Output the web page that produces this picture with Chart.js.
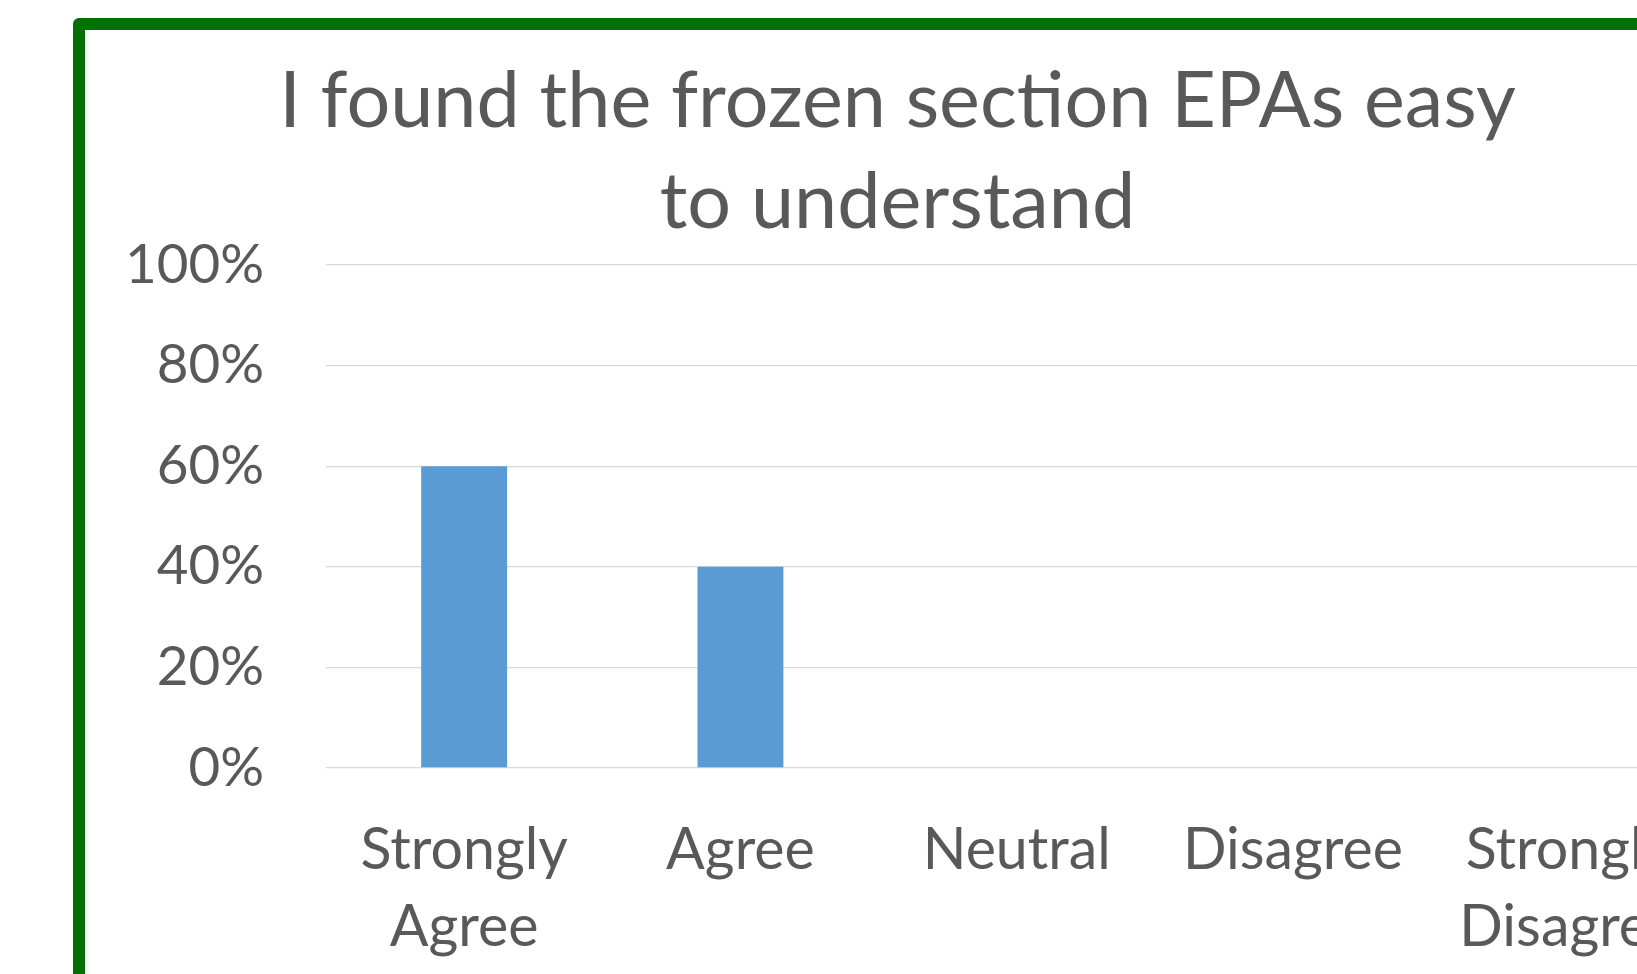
<!DOCTYPE html>
<html>
<head>
<meta charset="utf-8">
<script src="https://cdn.jsdelivr.net/npm/chart.js@4.4.1/dist/chart.umd.min.js"></script>
<style>
  html, body { margin: 0; padding: 0; background: #ffffff; overflow: hidden; width: 1637px; height: 974px; }
  #frame { position: absolute; left: 73px; top: 18px; border: 12px solid #047004; border-radius: 6px; background: #fff; width: 1640px; height: 1000px; }
  #c { display: block; }
</style>
</head>
<body>
<div id="frame"><canvas id="c" width="1640" height="1000"></canvas></div>
<script>
const titleLines = ["I found the frozen section EPAs easy", "to understand"];
const categories = [["Strongly", "Agree"], "Agree", "Neutral", "Disagree", ["Strongly", "Disagree"]];
const percentValues = [60, 40, 0, 0, 0];
const yTickValues = [0, 20, 40, 60, 80, 100];

const FAMILY = "Lato, 'Open Sans', sans-serif";
const TEXT = "#595959";

function fitSize(text, target) {
  const m = document.createElement("canvas").getContext("2d");
  m.font = "400 100px " + FAMILY;
  return 100 * target / m.measureText(text).width;
}
const titleSize = fitSize(titleLines[0], 1237);
const yTickSize = fitSize("100%", 139);
const xTickSize = fitSize("Disagree", 220);

const MID = 0.32; // approx. baseline offset from canvas 'middle'
const PLOT_TOP = 235, PLOT_BOTTOM = 738, H = 1000;
const titleLH = 101;
const titlePadTop = 97 - titleLH / 2 - MID * titleSize;
const titlePadBottom = PLOT_TOP - 2 * titleLH - titlePadTop;
const xLH = 77;
const xPad = 839 - PLOT_BOTTOM - xLH / 2 - MID * xTickSize;

new Chart(document.getElementById("c"), {
  type: "bar",
  data: {
    labels: categories,
    datasets: [{
      data: percentValues,
      backgroundColor: "#5B9BD5",
      borderWidth: 0,
      barPercentage: 1,
      categoryPercentage: 0.311
    }]
  },
  options: {
    responsive: false,
    animation: false,
    layout: { padding: { left: 0, right: 15, top: 0, bottom: 0 } },
    plugins: {
      legend: { display: false },
      tooltip: { enabled: false },
      title: {
        display: true,
        text: titleLines,
        color: TEXT,
        font: { family: FAMILY, size: titleSize, weight: "normal", lineHeight: titleLH / titleSize },
        padding: { top: titlePadTop, bottom: titlePadBottom }
      }
    },
    scales: {
      x: {
        offset: true,
        grid: { display: false, drawTicks: false },
        border: { display: false },
        ticks: {
          color: TEXT,
          autoSkip: false,
          maxRotation: 0,
          minRotation: 0,
          padding: xPad,
          font: { family: FAMILY, size: xTickSize, lineHeight: xLH / xTickSize }
        },
        afterFit: (s) => { s.height = H - PLOT_BOTTOM; }
      },
      y: {
        min: 0,
        max: 100,
        afterBuildTicks: (s) => { s.ticks = yTickValues.map(v => ({ value: v })); },
        grid: { color: "#D9D9D9", lineWidth: 1.3, drawTicks: false },
        border: { display: false },
        ticks: {
          color: TEXT,
          padding: 62,
          callback: (v) => v + "%",
          font: { family: FAMILY, size: yTickSize }
        },
        afterFit: (s) => { s.width = 241; }
      }
    }
  }
});
</script>
</body>
</html>
